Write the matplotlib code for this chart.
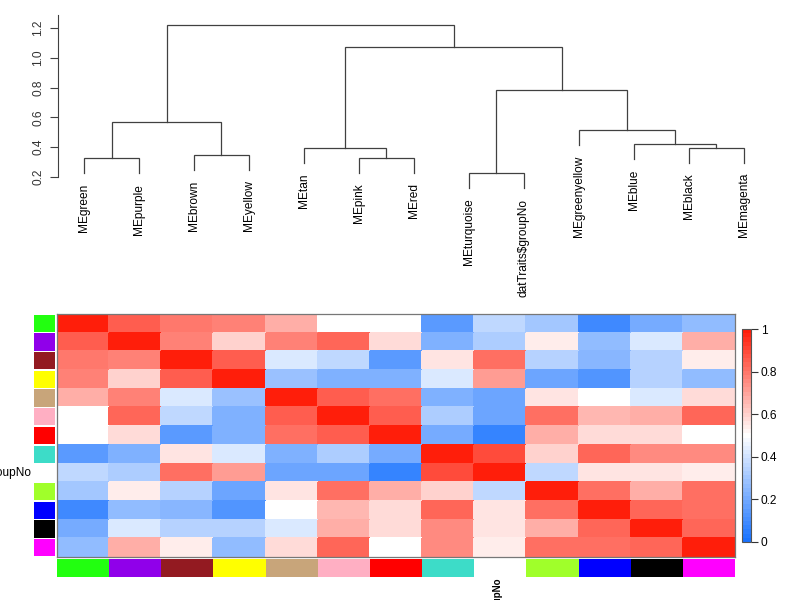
import matplotlib
matplotlib.use("Agg")
import matplotlib.pyplot as plt
import numpy as np
from matplotlib.colors import LinearSegmentedColormap

plt.rcParams["font.family"] = ["Liberation Sans", "DejaVu Sans"]

# eigengene order (dendrogram leaf order)
names = ["MEgreen", "MEpurple", "MEbrown", "MEyellow", "MEtan", "MEpink", "MEred",
         "MEturquoise", "datTraits$groupNo", "MEgreenyellow", "MEblue", "MEblack",
         "MEmagenta"]
strip_colors = ["#22FF10", "#9000EA", "#931A21", "#FFFF00", "#C8A57A", "#FFAFC3",
                "#FF0000", "#3DDCC8", "#FFFFFF", "#A0FF2A", "#0000FF", "#000000",
                "#FF00FF"]

# merges: (left, right, height); leaves are 0..12, new nodes 13, 14, ...
merges = [
    (7, 8, 0.225),      # 13 turquoise - groupNo
    (0, 1, 0.325),      # 14 green - purple
    (5, 6, 0.330),      # 15 pink - red
    (2, 3, 0.348),      # 16 brown - yellow
    (4, 15, 0.395),     # 17 tan - (pink, red)
    (11, 12, 0.397),    # 18 black - magenta
    (10, 18, 0.419),    # 19 blue - (black, magenta)
    (9, 19, 0.515),     # 20 greenyellow - ...
    (14, 16, 0.569),    # 21
    (13, 20, 0.784),    # 22
    (17, 22, 1.070),    # 23
    (21, 23, 1.222),    # 24
]
hang = 0.1

# adjacency heatmap values (rows/cols in names order)
adj = [
    [1.00, 0.86, 0.80, 0.77, 0.68, 0.50, 0.50, 0.14, 0.37, 0.31, 0.08, 0.20, 0.27],
    [0.86, 1.00, 0.77, 0.60, 0.77, 0.83, 0.57, 0.23, 0.33, 0.53, 0.26, 0.43, 0.67],
    [0.80, 0.77, 1.00, 0.85, 0.42, 0.37, 0.15, 0.55, 0.82, 0.35, 0.24, 0.35, 0.53],
    [0.77, 0.60, 0.85, 1.00, 0.28, 0.22, 0.22, 0.43, 0.72, 0.18, 0.12, 0.35, 0.27],
    [0.68, 0.77, 0.42, 0.28, 1.00, 0.85, 0.82, 0.23, 0.18, 0.55, 0.50, 0.43, 0.58],
    [0.50, 0.83, 0.37, 0.22, 0.85, 1.00, 0.86, 0.33, 0.18, 0.82, 0.65, 0.67, 0.83],
    [0.50, 0.57, 0.15, 0.22, 0.82, 0.86, 1.00, 0.20, 0.07, 0.68, 0.57, 0.57, 0.50],
    [0.14, 0.23, 0.55, 0.43, 0.23, 0.33, 0.20, 1.00, 0.90, 0.60, 0.84, 0.75, 0.75],
    [0.37, 0.33, 0.82, 0.72, 0.18, 0.18, 0.07, 0.90, 1.00, 0.37, 0.55, 0.55, 0.53],
    [0.31, 0.53, 0.35, 0.18, 0.55, 0.82, 0.68, 0.60, 0.37, 1.00, 0.82, 0.67, 0.82],
    [0.08, 0.26, 0.24, 0.12, 0.50, 0.65, 0.57, 0.84, 0.55, 0.82, 1.00, 0.83, 0.82],
    [0.20, 0.43, 0.35, 0.35, 0.43, 0.67, 0.57, 0.75, 0.55, 0.67, 0.83, 1.00, 0.84],
    [0.27, 0.67, 0.53, 0.27, 0.58, 0.83, 0.50, 0.75, 0.53, 0.82, 0.82, 0.84, 1.00],
]
cbar_ticks = [0, 0.2, 0.4, 0.6, 0.8, 1]

W, H = 800, 600


def box(x0, y0, x1, y1):
    # pixel box -> figure fraction [left, bottom, width, height]
    return [x0 / W, 1 - y1 / H, (x1 - x0) / W, (y1 - y0) / H]


fig = plt.figure(figsize=(8, 6), dpi=100)
fs = 8.6
n = len(names)

# ---- dendrogram ----
axd = fig.add_axes(box(58, 14, 770, 200))
nodes_x = {i: float(i) for i in range(n)}
nodes_h = {i: None for i in range(n)}
lc = "#404040"
for k, (a, b, h) in enumerate(merges):
    xa, xb = nodes_x[a], nodes_x[b]
    ya = nodes_h[a] if nodes_h[a] is not None else h - hang
    yb = nodes_h[b] if nodes_h[b] is not None else h - hang
    axd.plot([xa, xa, xb, xb], [ya, h, h, yb], color=lc, lw=0.9,
             solid_joinstyle="miter")
    nodes_x[n + k] = (xa + xb) / 2
    nodes_h[n + k] = h
    for leaf, yl in ((a, ya), (b, yb)):
        if leaf < n:
            axd.text(leaf, yl - 0.07, names[leaf], rotation=90, ha="center",
                     va="top", fontsize=fs)
axd.set_xlim((58 - 84) / 55, (770 - 84) / 55)
axd.set_ylim(0.2 - 23 / 149, 0.2 + 163 / 149)
for s in ("top", "right", "bottom"):
    axd.spines[s].set_visible(False)
axd.spines["left"].set_bounds(0.2, 1.29)
axd.spines["left"].set_color(lc)
axd.set_xticks([])
axd.set_yticks([0.2, 0.4, 0.6, 0.8, 1.0, 1.2])
axd.set_yticklabels(["0.2", "0.4", "0.6", "0.8", "1.0", "1.2"], rotation=90,
                    va="center", fontsize=fs, color="#333333")
axd.tick_params(axis="y", length=6, pad=4, color=lc)

# ---- heatmap ----
cmap = LinearSegmentedColormap.from_list(
    "bwr", ["#1A73FF", "#FFFFFF", "#FF1E0A"], N=51)
axh = fig.add_axes(box(57, 314, 735, 557))
mat = np.array(adj)
mesh = axh.pcolormesh(np.arange(n + 1), np.arange(n + 1), mat, cmap=cmap,
                      vmin=0, vmax=1, edgecolors="face", linewidth=0.3)
axh.set_xlim(0, n)
axh.set_ylim(n, 0)
axh.set_xticks([])
axh.set_yticks([])
for s in axh.spines.values():
    s.set_color("#777777")
    s.set_linewidth(0.9)

# left colour strip
axl = fig.add_axes(box(34, 314, 55, 557))
axl.barh(np.arange(n) + 0.5, [1] * n, height=0.93, color=strip_colors)
axl.set_xlim(0, 1)
axl.set_ylim(n, 0)
axl.axis("off")

# bottom colour strip
axb = fig.add_axes(box(57, 559, 735, 577))
axb.bar(np.arange(n) + 0.5, [1] * n, width=1.0, color=strip_colors)
axb.set_xlim(0, n)
axb.set_ylim(0, 1)
axb.axis("off")

# row / column labels (cut off by the figure edge, as in the original)
fig.text(31 / W, 1 - 473 / H, names[8], ha="right", va="center", fontsize=fs)
fig.text(498 / W, 1 - 578 / H, names[8], ha="center", va="top", rotation=90,
         fontsize=7, fontweight="bold")

# ---- colour bar ----
axc = fig.add_axes(box(742, 329, 751, 542))
cb = fig.colorbar(mesh, cax=axc, ticks=cbar_ticks)
cb.ax.set_yticklabels(["0", "0.2", "0.4", "0.6", "0.8", "1"])
cb.ax.tick_params(labelsize=fs, length=5, pad=2, color="#333333")
cb.outline.set_edgecolor("#555555")
cb.outline.set_linewidth(0.8)

fig.savefig("out.png", dpi=100)
